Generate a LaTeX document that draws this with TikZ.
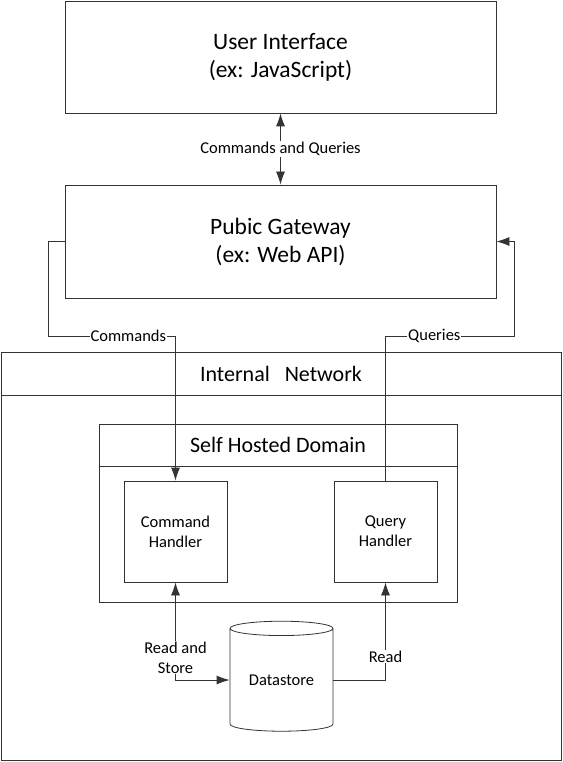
\documentclass[tikz,border=0pt]{standalone}
\usepackage{fontspec}
\setmainfont{Carlito}
\usetikzlibrary{arrows.meta, positioning, shapes.geometric}

\begin{document}
\begin{tikzpicture}[x=1pt, y=-1pt,
		>={Latex[length=13pt, width=9pt]},
		line/.style={draw=black!80, line width=0.8pt},
		box/.style={
			draw=black!80,
			line width=0.8pt,
			text centered,
			align=center,
			anchor=center,
			inner sep=0pt,
			font=\fontsize{16.5}{20}\selectfont,
		}, bigbox/.style={
			box,
			minimum width=431pt,
			minimum height=112pt,
			font=\fontsize{23.5}{28}\selectfont,
		}, handler/.style={
			box,
			minimum width=103pt,
			minimum height=101pt,
		}, header/.style={
			box,
			font=\fontsize{22}{26}\selectfont,
		}, lbl/.style={
			fill=white,
			inner sep=1pt,
			align=center,
			font=\fontsize{16.5}{20}\selectfont,
		}, ]
\useasboundingbox (0,0) rectangle (562,762);

% ------ Outside ------- %
\draw
(280.5,57) node[bigbox](ui){User Interface \\ (ex: JavaScript)}
(280.5,241.5) node[bigbox, minimum height=113pt](gateway){Pubic Gateway \\ (ex: Web API)}
;

% -------- Internal network --------- %
\draw[line] (1,395) rectangle (561,760);
\node[header, minimum width=560pt, minimum height=43pt] (internal) at (281,373.5) {Internal~~~Network};

\draw[line] (99,466) rectangle (457,602);
\node[header, minimum width=358pt, minimum height=42pt] (domain) at (278,445) {Self Hosted Domain};

\draw
(175.5,531.5) node[handler](command_handler){Command \\ Handler}
(385.5,531.5) node[handler](query_handler){Query \\ Handler}
;

\node[box, cylinder, shape border rotate=90, aspect=0.22, minimum width=103pt, minimum height=110pt] (datastore) at (281.5,680) {Datastore};

% -------- Connectors --------- %
\coordinate (commands_turn) at (48,336);
\coordinate (queries_turn) at (514,336);

\draw [line, <->] (ui.south) -- node[lbl]{Commands and Queries} (gateway.north);
\draw [line, ->] (gateway.west) -| (commands_turn) -- node[lbl, pos=0.63]{Commands} (commands_turn -| command_handler.north) -- (command_handler.north);
\draw [line, ->] (query_handler.north) -- (query_handler.north |- queries_turn) -- node[lbl, pos=0.38]{Queries} (queries_turn) |- (gateway.east);
\draw [line, <->] (command_handler.south) -- node[lbl, pos=0.77]{Read and \\ Store} (command_handler.south |- datastore.west) -- (datastore.west);
\draw [line, <-] (query_handler.south) -- node[lbl, pos=0.76]{Read} (query_handler.south |- datastore.east) -- (datastore.east);

\end{tikzpicture}
\end{document}
